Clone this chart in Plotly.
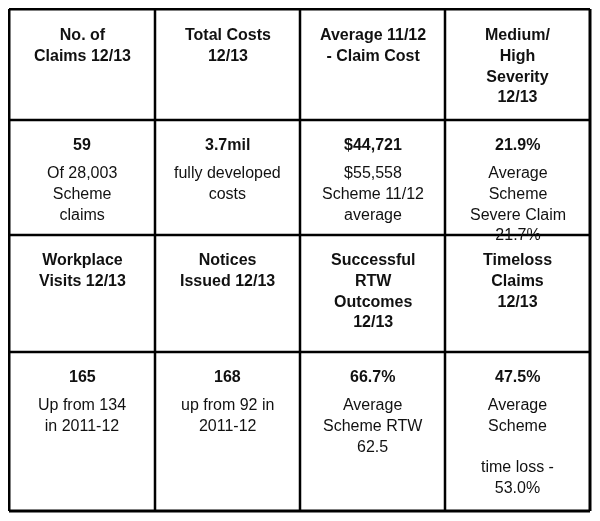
import plotly.graph_objects as go

# table contents, row by row
HEADERS_TOP = ["No. of<br>Claims 12/13", "Total Costs<br>12/13",
               "Average 11/12<br>- Claim Cost", "Medium/<br>High<br>Severity<br>12/13"]
VALUES_TOP = ["59", "3.7mil", "$44,721", "21.9%"]
NOTES_TOP = ["Of 28,003<br>Scheme<br>claims", "fully developed<br>costs",
             "$55,558<br>Scheme 11/12<br>average", "Average<br>Scheme<br>Severe Claim<br>21.7%"]
HEADERS_BOTTOM = ["Workplace<br>Visits 12/13", "Notices<br>Issued 12/13",
                  "Successful<br>RTW<br>Outcomes<br>12/13", "Timeloss<br>Claims<br>12/13"]
VALUES_BOTTOM = ["165", "168", "66.7%", "47.5%"]
NOTES_BOTTOM = ["Up from 134<br>in 2011-12", "up from 92 in<br>2011-12",
                "Average<br>Scheme RTW<br>62.5", "Average<br>Scheme<br><span style='font-size:8px'> </span><br>time loss -<br>53.0%"]

# page body has an 8px margin, so coordinates are relative to that
COL_EDGES = [1, 147, 292, 437, 582]
ROW_EDGES = [1, 112, 227, 344, 503]
FONT = "Liberation Sans, Arial, sans-serif"

fig = go.Figure()
fig.add_trace(go.Scatter(x=[0, 600], y=[0, 521], mode="markers", opacity=0, hoverinfo="skip"))

for x in COL_EDGES:
    fig.add_shape(type="line", x0=x, x1=x, y0=ROW_EDGES[0], y1=ROW_EDGES[-1],
                  line=dict(color="black", width=3 if x in (COL_EDGES[0], COL_EDGES[-1]) else 2.5))
for y in ROW_EDGES:
    fig.add_shape(type="line", x0=COL_EDGES[0], x1=COL_EDGES[-1], y0=y, y1=y,
                  line=dict(color="black", width=3 if y in (ROW_EDGES[0], ROW_EDGES[-1]) else 2.5))


def put(text, col, y, bold=False):
    cx = (COL_EDGES[col] + COL_EDGES[col + 1]) / 2
    fig.add_annotation(x=cx, y=y, text=f"<b>{text}</b>" if bold else text,
                       showarrow=False, xanchor="center", yanchor="top", align="center",
                       font=dict(family=FONT, size=16, color="#111"))


for i in range(4):
    put(HEADERS_TOP[i], i, ROW_EDGES[0] + 15, bold=True)
    put(VALUES_TOP[i], i, ROW_EDGES[1] + 14, bold=True)
    put(NOTES_TOP[i], i, ROW_EDGES[1] + 42)
    put(HEADERS_BOTTOM[i], i, ROW_EDGES[2] + 14, bold=True)
    put(VALUES_BOTTOM[i], i, ROW_EDGES[3] + 14, bold=True)
    put(NOTES_BOTTOM[i], i, ROW_EDGES[3] + 42)

fig.update_layout(
    width=600, height=521, margin=dict(l=0, r=0, t=0, b=0),
    paper_bgcolor="white", plot_bgcolor="white", showlegend=False,
    xaxis=dict(range=[0, 600], visible=False, fixedrange=True),
    yaxis=dict(range=[521, 0], visible=False, fixedrange=True),
)
fig.write_html("out.html", config={"displayModeBar": False})
